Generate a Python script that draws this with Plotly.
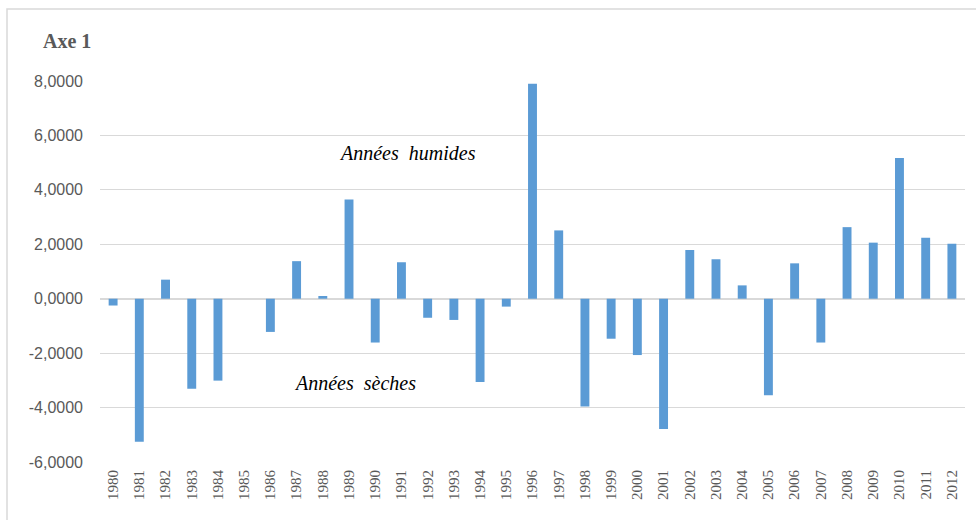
import plotly.graph_objects as go

years = [str(y) for y in range(1980, 2013)]
axe1 = [-0.25, -5.26, 0.70, -3.31, -3.01, 0.0, -1.22, 1.38, 0.10, 3.65,
        -1.61, 1.34, -0.70, -0.78, -3.06, -0.29, 7.90, 2.51, -3.96, -1.47,
        -2.07, -4.79, 1.79, 1.45, 0.49, -3.55, 1.30, -1.61, 2.63, 2.06,
        5.17, 2.24, 2.02]
tick_vals = [-6, -4, -2, 0, 2, 4, 6, 8]
tick_text = ["-6,0000", "-4,0000", "-2,0000", "0,0000", "2,0000", "4,0000", "6,0000", "8,0000"]

fig = go.Figure(go.Bar(x=years, y=axe1, marker_color="#5b9bd5", marker_line_width=0))

fig.update_layout(
    width=976, height=520,
    margin=dict(l=100, r=11, t=81, b=58),
    paper_bgcolor="white", plot_bgcolor="white",
    bargap=0.66, showlegend=False,
    font=dict(family="Liberation Sans", color="#595959"),
)
fig.update_yaxes(range=[-6, 8], tickvals=tick_vals, ticktext=tick_text,
                 showgrid=True, gridcolor="#d9d9d9", gridwidth=1,
                 zeroline=True, zerolinecolor="#d9d9d9", zerolinewidth=1.5,
                 tickfont=dict(family="Liberation Sans", size=16, color="#595959"),
                 ticks="", ticklabelstandoff=16)
fig.update_xaxes(type="category", tickangle=-90, showgrid=False, showline=False,
                 tickfont=dict(family="Liberation Serif", size=15, color="#595959"),
                 ticks="", ticklabelstandoff=4)

fig.add_annotation(text="<b>Axe 1</b>", xref="paper", yref="paper",
                   x=(41 - 100) / 865, y=1 + (81 - 41) / 381, xanchor="left", yanchor="middle",
                   showarrow=False, font=dict(family="Liberation Serif", size=20, color="#595959"))
fig.add_annotation(text="<i>Années  humides</i>", xref="paper", yref="paper",
                   x=(407 - 100) / 865, y=1 - (153 - 81) / 381, xanchor="center", yanchor="middle",
                   showarrow=False, font=dict(family="Liberation Serif", size=20, color="#000000"))
fig.add_annotation(text="<i>Années  sèches</i>", xref="paper", yref="paper",
                   x=(355 - 100) / 865, y=1 - (383 - 81) / 381, xanchor="center", yanchor="middle",
                   showarrow=False, font=dict(family="Liberation Serif", size=20, color="#000000"))

fig.add_shape(type="rect", xref="paper", yref="paper",
              x0=(7 - 100) / 865, x1=1.05, y0=-0.3, y1=1 + (81 - 9) / 381,
              line=dict(color="#d9d9d9", width=1.5), fillcolor="rgba(0,0,0,0)", layer="below")

fig.write_html("out.html", config={"displayModeBar": False},
               post_script="document.body.style.margin='0';document.body.style.overflow='hidden';")
